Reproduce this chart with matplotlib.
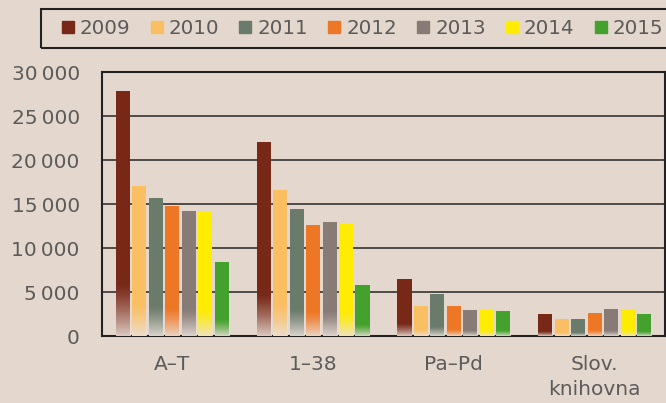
import numpy as np
import matplotlib
matplotlib.use("Agg")
from matplotlib import pyplot as plt
from matplotlib.lines import Line2D
from matplotlib.patches import Rectangle
from matplotlib.colors import to_rgb

categories = ["A\u2013T", "1\u201338", "Pa\u2013Pd", "Slov.\nknihovna"]
years = ["2009", "2010", "2011", "2012", "2013", "2014", "2015"]
values = {
    "2009": [27800, 22000, 6450, 2500],
    "2010": [17000, 16550, 3400, 1950],
    "2011": [15650, 14400, 4750, 1950],
    "2012": [14750, 12600, 3400, 2600],
    "2013": [14200, 12950, 2950, 3050],
    "2014": [14150, 12700, 2950, 3050],
    "2015": [8400, 5800, 2850, 2500],
}
colors = ["#772816", "#fbbf63", "#6a7a6b", "#ee7726", "#887a75", "#ffec00", "#44a12d"]
yticks = [0, 5000, 10000, 15000, 20000, 25000, 30000]

bg = "#e4d8ce"
txt = "#5b5b5b"
plt.rcParams['font.family'] = ['DejaVu Sans']

fig = plt.figure(figsize=(6.66, 4.03), dpi=100, facecolor=bg)
ax = fig.add_axes([102 / 666, 67 / 403, 563 / 666, 264 / 403])
ax.set_facecolor(bg)

x = np.arange(len(categories))
step = 0.117
width = 0.1

# fade overlay (background colour, transparent at top -> mostly opaque at bottom)
fade = np.zeros((64, 1, 4))
fade[:, 0, :3] = to_rgb("#eae1da")
fade[:, 0, 3] = np.linspace(0.9, 0.0, 64) ** 1.3

for j, (yr, col) in enumerate(zip(years, colors)):
    pos = x + (j - 3) * step
    ax.bar(pos, values[yr], width=width, color=col, zorder=3)
    for p, v in zip(pos, values[yr]):
        ax.imshow(fade, extent=(p - width / 2, p + width / 2, 0, v * 0.22),
                  origin='lower', aspect='auto', zorder=4, interpolation='nearest')

ax.set_xlim(-0.5, len(categories) - 0.5)
ax.set_ylim(0, 30000)
ax.set_yticks(yticks)
ax.set_yticklabels([f"{v:,}".replace(",", "\u2009") for v in yticks])
ax.set_xticks(x)
ax.set_xticklabels(categories, linespacing=1.4)
ax.tick_params(axis='y', length=0, pad=16, labelsize=14.5, labelcolor=txt)
ax.tick_params(axis='x', length=0, pad=14, labelsize=14.5, labelcolor=txt)
ax.grid(axis='y', color="#333333", linewidth=1.2, zorder=1)
ax.set_axisbelow(True)
for s in ax.spines.values():
    s.set_color("#222222")
    s.set_linewidth(1.5)

# legend, with frame running off the right edge like the original
fig.patches.append(Rectangle((41 / 666, 1 - 48 / 403), 0.99, 39 / 403,
                             transform=fig.transFigure, fill=False,
                             edgecolor="#222222", linewidth=1.5))
handles = [Line2D([0], [0], marker='s', color=c, linestyle='none', markersize=8)
           for c in colors]
fig.legend(handles, years, loc='center left', bbox_to_anchor=(62 / 666, 1 - 28.5 / 403),
           ncol=7, frameon=False, fontsize=14.3, labelcolor=txt,
           handlelength=0.6, handletextpad=0.3, columnspacing=1.02, borderpad=0,
           borderaxespad=0)

fig.savefig("out.png", dpi=100, facecolor=bg)
